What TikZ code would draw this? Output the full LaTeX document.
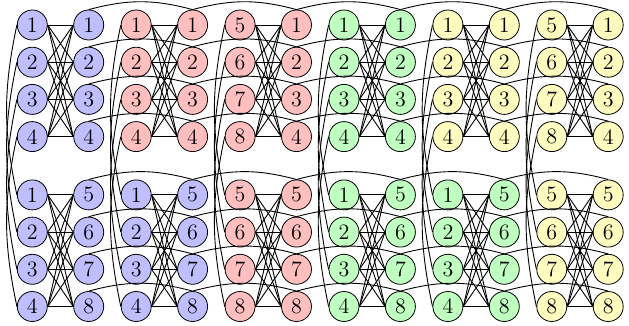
\documentclass[tikz,border=0pt]{standalone}
\usetikzlibrary{calc}
\colorlet{cb}{blue!25}
\colorlet{cr}{red!25}
\colorlet{cg}{green!25}
\colorlet{cy}{yellow!25}
\tikzset{
  vtx/.style={circle,draw=black,minimum size=15pt,inner sep=0pt,font=\fontsize{11}{13}\selectfont},
  wire/.style={draw=black,line width=0.45pt},
}
\begin{document}
\begin{tikzpicture}[x=0.5pt,y=-0.5pt]
\useasboundingbox (0,0) rectangle (629,326);
% nodes
\foreach \c/\tc/\toff/\bc/\boff in {1/cb/0/cb/0, 2/cb/0/cb/4, 3/cr/0/cb/0, 4/cr/0/cb/4, 5/cr/4/cr/4, 6/cr/0/cr/4, 7/cg/0/cg/0, 8/cg/0/cg/4, 9/cy/0/cg/0, 10/cy/0/cg/4, 11/cy/4/cy/4, 12/cy/0/cy/4}{
  \pgfmathsetmacro\xx{32.3+103.9*int((\c-1)/2)+56.4*(1-mod(\c,2))}
  \foreach \r in {1,...,4}{
    \pgfmathsetmacro\yy{25+37.2*(\r-1)}
    \pgfmathtruncatemacro\lab{\r+\toff}
    \node[vtx,fill=\tc] (n-\c-\r) at (\xx,\yy) {\lab};
  }
  \foreach \r in {5,...,8}{
    \pgfmathsetmacro\yy{25+37.2*(\r-1)+21.1}
    \pgfmathtruncatemacro\lab{\r-4+\boff}
    \node[vtx,fill=\bc] (n-\c-\r) at (\xx,\yy) {\lab};
  }
}
% complete bipartite links inside each pair
\foreach \k in {0,...,5}{
  \pgfmathtruncatemacro\lc{2*\k+1}
  \pgfmathtruncatemacro\rc{2*\k+2}
  \foreach \i in {1,...,4}{
    \foreach \j in {1,...,4}{
      \draw[wire] (n-\lc-\i.east) -- (n-\rc-\j.west);
      \pgfmathtruncatemacro\ii{\i+4}
      \pgfmathtruncatemacro\jj{\j+4}
      \draw[wire] (n-\lc-\ii.east) -- (n-\rc-\jj.west);
    }
  }
}
% horizontal curves between right columns
\foreach \c in {2,4,6,8,10}{
  \pgfmathtruncatemacro\cn{\c+2}
  \foreach \r in {1,...,8}{
    \draw[wire] (n-\c-\r.north) to[bend left=15] (n-\cn-\r.north);
  }
}
% vertical curves on left columns
\foreach \c in {1,3,5,7,9,11}{
  \foreach \r in {1,...,4}{
    \pgfmathtruncatemacro\rb{\r+4}
    \draw[wire] (n-\c-\r.west) to[bend right=12] (n-\c-\rb.west);
  }
}
\end{tikzpicture}
\end{document}
